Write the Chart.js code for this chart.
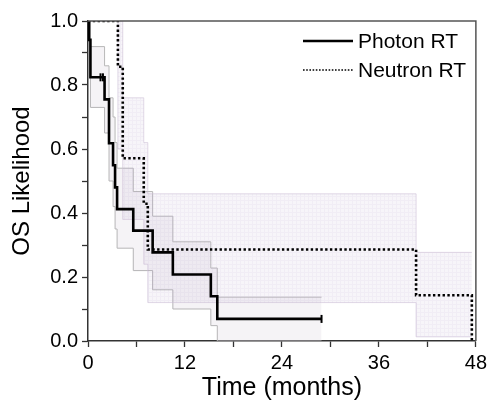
<!DOCTYPE html>
<html>
<head>
<meta charset="utf-8">
<script src="https://cdn.jsdelivr.net/npm/chart.js@4.4.1/dist/chart.umd.min.js"></script>
<style>
  html, body { margin: 0; padding: 0; background: #fff; }
  #wrap { width: 491px; height: 403px; }
</style>
</head>
<body>
<div id="wrap"><canvas id="km" width="491" height="403"></canvas></div>
<script>
// Photon RT: Kaplan-Meier steps with confidence band
const photonTime  = [0, 0.15, 0.3, 2.05, 2.6, 3.1, 3.35, 3.6, 5.6, 8.0, 10.5, 15.2, 16.0, 28.9];
const photonSurv  = [1, 0.941, 0.824, 0.755, 0.618, 0.549, 0.48, 0.412, 0.345, 0.277, 0.208, 0.14, 0.069, 0.069];
const photonUpper = [1, 0.941, 0.92, 0.86, 0.76, 0.70, 0.62, 0.54, 0.467, 0.39, 0.31, 0.228, 0.137, 0.137];
const photonLower = [1, 0.941, 0.73, 0.65, 0.50, 0.42, 0.35, 0.29, 0.22, 0.16, 0.10, 0.048, 0, 0];
const photonCensorTime = [1.55, 1.85, 28.9];
const photonCensorSurv = [0.824, 0.824, 0.069];

// Neutron RT
const neutronTime  = [0, 3.7, 4.3, 6.9, 7.4, 40.6, 47.5];
const neutronSurv  = [1, 0.857, 0.571, 0.429, 0.286, 0.143, 0];
const neutronUpper = [1, 1, 0.76, 0.62, 0.46, 0.277, 0.277];
const neutronLower = [1, 0.6, 0.38, 0.24, 0.12, 0.013, 0.013];

const xTicks = [0, 12, 24, 36, 48];
const seriesNames = ["Photon RT", "Neutron RT"];

const FONT = "'Liberation Sans', Arial, sans-serif";

function pts(xs, ys) {
  return xs.map((x, i) => ({ x: x, y: ys[i] }));
}

// faint grid texture used for the neutron band
function gridPattern() {
  const c = document.createElement("canvas");
  c.width = 4; c.height = 4;
  const g = c.getContext("2d");
  g.fillStyle = "rgba(180,155,195,0.10)";
  g.fillRect(0, 0, 4, 4);
  g.fillStyle = "rgba(165,140,185,0.08)";
  g.fillRect(0, 0, 4, 1);
  g.fillRect(0, 1, 1, 3);
  return g.createPattern(c, "repeat");
}

const framePlugin = {
  id: "frame",
  afterDraw(chart) {
    const { ctx, chartArea: a } = chart;
    ctx.save();
    ctx.strokeStyle = "#555";
    ctx.lineWidth = 1.5;
    ctx.beginPath();
    ctx.moveTo(a.left, a.top);
    ctx.lineTo(a.right, a.top);
    ctx.lineTo(a.right, a.bottom);
    ctx.stroke();

    // legend in the top right corner
    ctx.fillStyle = "#000";
    ctx.font = "21px " + FONT;
    ctx.textBaseline = "middle";
    ctx.textAlign = "left";
    ctx.strokeStyle = "#000";
    ctx.lineWidth = 2.5;
    ctx.beginPath();
    ctx.moveTo(303, 41);
    ctx.lineTo(353, 41);
    ctx.stroke();
    ctx.fillText(seriesNames[0], 358, 42);
    ctx.lineWidth = 1.6;
    ctx.setLineDash([1.6, 1.6]);
    ctx.beginPath();
    ctx.moveTo(303, 70);
    ctx.lineTo(353, 70);
    ctx.stroke();
    ctx.setLineDash([]);
    ctx.fillText(seriesNames[1], 358, 71);
    ctx.restore();
  }
};

const STEP = "before";

const ctx = document.getElementById("km");
new Chart(ctx, {
  type: "line",
  data: {
    datasets: [
      {
        label: seriesNames[0],
        data: pts(photonTime, photonSurv),
        stepped: STEP,
        borderColor: "#000",
        borderWidth: 2.6,
        pointRadius: 0,
        fill: false,
        order: 0
      },
      {
        label: seriesNames[1],
        data: pts(neutronTime, neutronSurv),
        stepped: STEP,
        borderColor: "#000",
        borderWidth: 2.6,
        borderDash: [2.4, 2.4],
        borderCapStyle: "butt",
        pointRadius: 0,
        fill: false,
        order: 0
      },
      {
        type: "scatter",
        label: "censored",
        data: pts(photonCensorTime, photonCensorSurv),
        showLine: false,
        pointStyle: "line",
        rotation: 90,
        pointRadius: 4,
        borderColor: "#000",
        borderWidth: 2,
        order: 0
      },
      {
        label: "photon upper",
        data: pts(photonTime, photonUpper),
        stepped: STEP,
        borderColor: "#b8b8b8",
        borderWidth: 1,
        pointRadius: 0,
        backgroundColor: "rgba(140,120,160,0.09)",
        fill: "+1",
        order: 2
      },
      {
        label: "photon lower",
        data: pts(photonTime, photonLower),
        stepped: STEP,
        borderColor: "#b8b8b8",
        borderWidth: 1,
        pointRadius: 0,
        fill: false,
        order: 2
      },
      {
        label: "neutron upper",
        data: pts(neutronTime, neutronUpper),
        stepped: STEP,
        borderColor: "rgba(205,192,214,0.6)",
        borderWidth: 1,
        pointRadius: 0,
        backgroundColor: gridPattern(),
        fill: "+1",
        order: 1
      },
      {
        label: "neutron lower",
        data: pts(neutronTime, neutronLower),
        stepped: STEP,
        borderColor: "rgba(205,192,214,0.6)",
        borderWidth: 1,
        pointRadius: 0,
        fill: false,
        order: 1
      }
    ]
  },
  options: {
    responsive: false,
    animation: false,
    events: [],
    layout: { padding: { top: 21, right: 14, left: 0, bottom: 0 } },
    plugins: {
      legend: { display: false },
      tooltip: { enabled: false },
      filler: { propagate: false }
    },
    scales: {
      x: {
        type: "linear",
        min: 0,
        max: 48,
        afterFit: (s) => { s.height = 62; },
        afterBuildTicks: (s) => {
          const t = [];
          for (let v = 0; v <= 48; v += 6) t.push({ value: v });
          s.ticks = t;
        },
        ticks: {
          color: "#000",
          font: { family: FONT, size: 20 },
          padding: 4,
          maxRotation: 0,
          autoSkip: false,
          callback: (v) => (xTicks.includes(v) ? String(v) : "")
        },
        grid: {
          drawOnChartArea: false,
          drawTicks: true,
          tickLength: 6,
          tickColor: "#333",
          tickWidth: 1.3
        },
        border: { display: true, color: "#333", width: 1.5 },
        title: {
          display: true,
          text: "Time (months)",
          color: "#000",
          font: { family: FONT, size: 25 },
          padding: { top: 0, bottom: 0 }
        }
      },
      y: {
        type: "linear",
        min: 0,
        max: 1,
        afterFit: (s) => { s.width = 88; },
        afterBuildTicks: (s) => {
          const t = [];
          for (let i = 0; i <= 10; i++) t.push({ value: i / 10 });
          s.ticks = t;
        },
        ticks: {
          color: "#000",
          font: { family: FONT, size: 20 },
          padding: 4,
          autoSkip: false,
          callback: (v) => (Math.round(v * 10) % 2 === 0 ? v.toFixed(1) : "")
        },
        grid: {
          drawOnChartArea: false,
          drawTicks: true,
          tickLength: 6,
          tickColor: "#333",
          tickWidth: 1.3
        },
        border: { display: true, color: "#333", width: 1.5 },
        title: {
          display: true,
          text: "OS Likelihood",
          color: "#000",
          font: { family: FONT, size: 24 },
          padding: { top: 8, bottom: 0 }
        }
      }
    }
  },
  plugins: [framePlugin]
});
</script>
</body>
</html>
